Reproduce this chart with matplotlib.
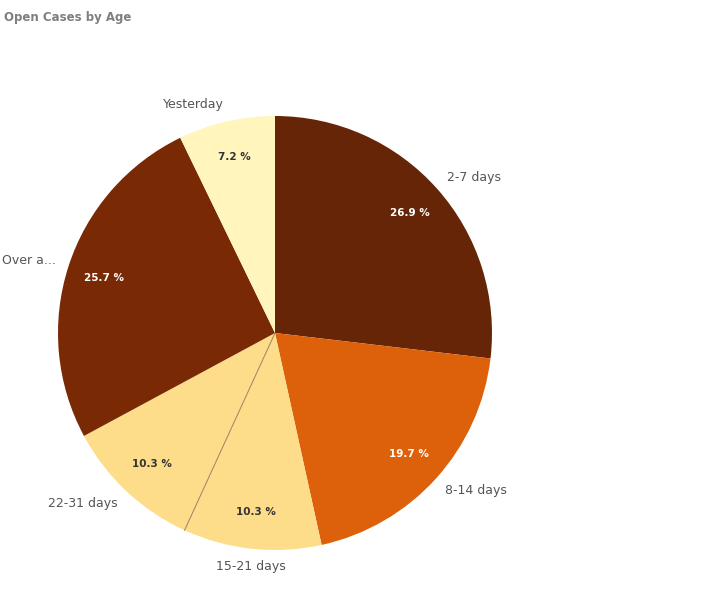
import matplotlib
matplotlib.use("Agg")
import matplotlib.pyplot as plt
import numpy as np

labels = ["2-7 days", "8-14 days", "15-21 days", "22-31 days", "Over a...", "Yesterday"]
values = [26.9, 19.7, 10.3, 10.3, 25.7, 7.2]
colors = ["#662506", "#dd600b", "#fddc8a", "#fddc8a", "#7a2905", "#fff5bd"]
pct_colors = ["white", "white", "#333333", "#333333", "white", "#333333"]

fig = plt.figure(figsize=(7.26, 6.10), dpi=100)
fig.text(0.006, 0.982, "Open Cases by Age", fontsize=8.5, fontweight="bold",
         color="#7f7f7f", va="top", ha="left")
r = 217
ax = fig.add_axes([(275 - r) / 726, (610 - 333 - r) / 610, 2 * r / 726, 2 * r / 610])
wedges, _ = ax.pie(values, colors=colors, startangle=90, counterclock=False,
                   wedgeprops=dict(linewidth=0))
# thin separator between the two same-coloured slices
b = np.deg2rad(wedges[3].theta2)
ax.plot([0, np.cos(b)], [0, np.sin(b)], color="#a08060", lw=0.7)
for w, lab, v, pc in zip(wedges, labels, values, pct_colors):
    ang = np.deg2rad((w.theta1 + w.theta2) / 2)
    x, y = np.cos(ang), np.sin(ang)
    ax.text(0.83 * x, 0.83 * y, f"{v:.1f} %", ha="center", va="center",
            fontsize=7.5, color=pc, fontweight="bold")
    ha = "left" if x > 0.15 else ("right" if x < -0.15 else "center")
    ax.text(1.06 * x, 1.08 * y, lab, ha=ha, va="center", fontsize=9, color="#555555")
ax.set_xlim(-1, 1)
ax.set_ylim(-1, 1)
ax.set_aspect("equal")
fig.savefig("out.png", dpi=100, facecolor="white")
